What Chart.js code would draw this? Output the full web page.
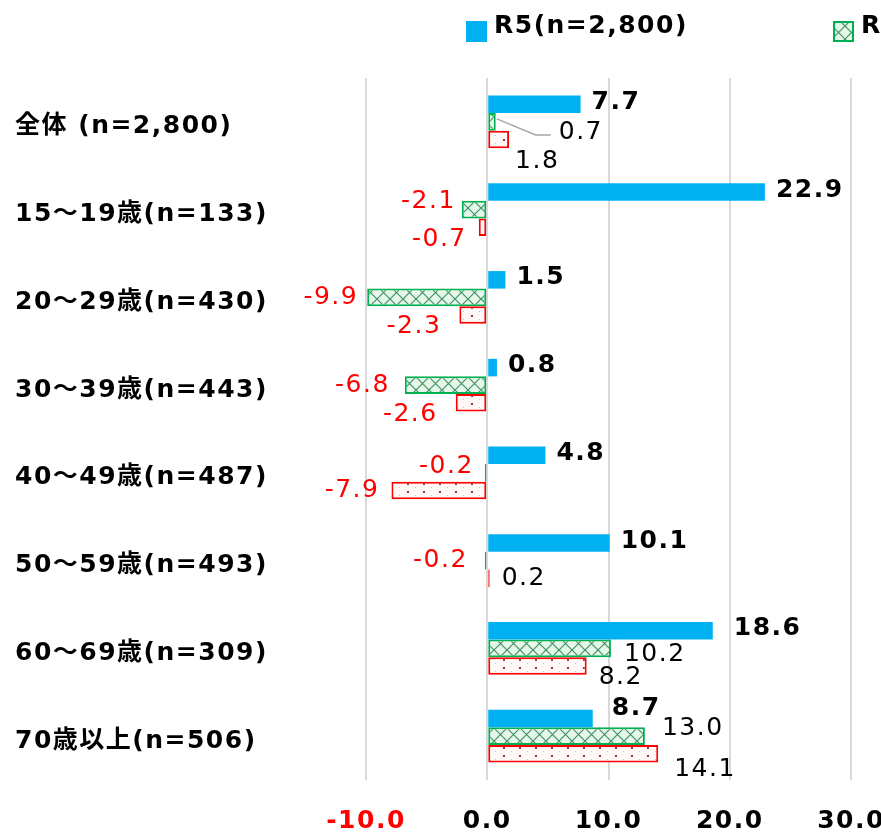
<!DOCTYPE html>
<html>
<head>
<meta charset="utf-8">
<script src="https://cdn.jsdelivr.net/npm/chart.js@4"></script>
<style>
  html, body { margin:0; padding:0; background:#fff; overflow:hidden; }
  #box { width:881px; height:833px; }
</style>
</head>
<body>
<div id="box"><canvas id="chart"></canvas></div>
<script>
// ========== データ ==========
const categories = [
  "全体 (n=2,800)",
  "15～19歳(n=133)",
  "20～29歳(n=430)",
  "30～39歳(n=443)",
  "40～49歳(n=487)",
  "50～59歳(n=493)",
  "60～69歳(n=309)",
  "70歳以上(n=506)"
];
const seriesNames = ["R5(n=2,800)", "R4(n=2,800)", "R3(n=2,800)"];
const r5Values = [7.7, 22.9, 1.5, 0.8, 4.8, 10.1, 18.6, 8.7];
const r4Values = [0.7, -2.1, -9.9, -6.8, -0.2, -0.2, 10.2, 13.0];
const r3Values = [1.8, -0.7, -2.3, -2.6, -7.9, 0.2, 8.2, 14.1];
const xTicks = [-10, 0, 10, 20, 30];

const FONT = '"DejaVu Sans", "Noto Sans CJK JP", sans-serif';
const BLUE = "#00B0F0";
const GREEN = "#00B050";
const RED = "#FF0000";

// ========== 塗りつぶしパターン ==========
function crossPattern() {
  const c = document.createElement("canvas");
  c.width = 13; c.height = 13;
  const g = c.getContext("2d");
  g.fillStyle = "#e6f6ea";
  g.fillRect(0, 0, 13, 13);
  g.strokeStyle = "#3f9460";
  g.lineWidth = 1.2;
  g.beginPath();
  g.moveTo(0, 0); g.lineTo(13, 13);
  g.moveTo(13, 0); g.lineTo(0, 13);
  g.stroke();
  return g.createPattern(c, "repeat");
}

function dotPattern() {
  const c = document.createElement("canvas");
  c.width = 16; c.height = 8;
  const g = c.getContext("2d");
  g.fillStyle = "#fff8f9";
  g.fillRect(0, 0, 16, 8);
  g.fillStyle = "#9c2c48";
  g.fillRect(7, 3, 2, 2);
  g.fillStyle = "#e7b3c0";
  g.fillRect(15, 7, 1, 1);
  return g.createPattern(c, "repeat");
}

const greenFill = crossPattern();
const redFill = dotPattern();

// ========== 文字間隔 ==========
const spacingPlugin = {
  id: "spacing",
  beforeUpdate(chart) { chart.ctx.letterSpacing = "1.5px"; },
  beforeDraw(chart) { chart.ctx.letterSpacing = "1.5px"; }
};

// ========== 凡例（右側は見切れ） ==========
const legendPlugin = {
  id: "cutLegend",
  afterDraw(chart) {
    const ctx = chart.ctx;
    ctx.save();
    chart.data.datasets.forEach((ds, i) => {
      const x = 466 + i * 367;
      ctx.fillStyle = ds.backgroundColor;
      ctx.fillRect(x, 21, 21, 21);
      if (ds.borderWidth) {
        ctx.strokeStyle = ds.borderColor;
        ctx.lineWidth = 2;
        ctx.strokeRect(x + 1, 22, 19, 19);
      }
      ctx.fillStyle = "#000";
      ctx.font = "bold 25px " + FONT;
      ctx.textAlign = "left";
      ctx.textBaseline = "alphabetic";
      ctx.fillText(ds.label, x + 28, 33);
    });
    ctx.restore();
  }
};

// ========== データラベル ==========
const labelStyle = [
  { weight: "bold", size: 25, dx: 11, dy: -2 },
  { weight: "normal", size: 25, dx: 11, dy: 0 },
  { weight: "normal", size: 25, dx: 12, dy: 12 }
];
// 手で動かしたラベル [dx, dy, 引き出し線]
const labelNudge = {
  "0-6": [10, 0], "0-7": [8, -8],
  "1-0": [52, 11, true], "1-1": [-5, -8], "1-2": [-2, 0], "1-3": [4, 0],
  "1-4": [0, -6], "1-5": [6, 0], "1-6": [2, 6], "1-7": [6, -8],
  "2-0": [-6, 10], "2-2": [6, 0], "2-3": [6, 0], "2-4": [0, -12], "2-5": [0, -12],
  "2-7": [4, 4]
};

const valueLabels = {
  id: "valueLabels",
  afterDatasetsDraw(chart) {
    const ctx = chart.ctx;
    ctx.save();
    chart.data.datasets.forEach((ds, i) => {
      const st = labelStyle[i];
      chart.getDatasetMeta(i).data.forEach((bar, j) => {
        const v = ds.data[j];
        const neg = v < 0;
        const nudge = labelNudge[i + "-" + j] || [0, 0];
        const endX = neg ? Math.min(bar.x, bar.base) : Math.max(bar.x, bar.base);
        const x = neg ? endX - st.dx - nudge[0] : endX + st.dx + nudge[0];
        const y = bar.y + st.dy + nudge[1];
        if (nudge[2]) {
          ctx.strokeStyle = "#a6a6a6";
          ctx.lineWidth = 1.5;
          ctx.beginPath();
          ctx.moveTo(endX + 1, bar.y - 3);
          ctx.lineTo(endX + 40, y + 2);
          ctx.lineTo(x - 8, y + 2);
          ctx.stroke();
        }
        ctx.font = st.weight + " " + st.size + "px " + FONT;
        ctx.fillStyle = neg ? RED : "#000";
        ctx.textAlign = neg ? "right" : "left";
        ctx.textBaseline = "middle";
        ctx.fillText(v.toFixed(1), x, y);
      });
    });
    ctx.restore();
  }
};

// ========== グラフ ==========
new Chart(document.getElementById("chart"), {
  type: "bar",
  data: {
    labels: categories,
    datasets: [
      { label: seriesNames[0], data: r5Values, backgroundColor: BLUE, borderWidth: 0 },
      { label: seriesNames[1], data: r4Values, backgroundColor: greenFill, borderColor: GREEN, borderWidth: 2, borderSkipped: false },
      { label: seriesNames[2], data: r3Values, backgroundColor: redFill, borderColor: RED, borderWidth: 2, borderSkipped: false }
    ]
  },
  options: {
    indexAxis: "y",
    responsive: true,
    maintainAspectRatio: false,
    animation: false,
    categoryPercentage: 0.6,
    barPercentage: 1.0,
    layout: { padding: { left: 15, right: 30, top: 78, bottom: 0 } },
    plugins: {
      legend: { display: false },
      tooltip: { enabled: false }
    },
    scales: {
      x: {
        min: xTicks[0],
        max: xTicks[xTicks.length - 1],
        afterBuildTicks: s => { s.ticks = xTicks.map(v => ({ value: v })); },
        afterFit: s => { s.paddingRight = 0; s.paddingLeft = 0; s.height = 53; },
        grid: { color: "#d9d9d9", lineWidth: 2, drawTicks: false },
        border: { display: false },
        ticks: {
          padding: 26,
          maxRotation: 0,
          font: { family: FONT, size: 25, weight: "bold" },
          color: c => c.tick.value < 0 ? RED : "#000",
          callback: v => v.toFixed(1)
        }
      },
      y: {
        afterFit: s => { s.width = 351; },
        grid: { display: false },
        border: { display: false },
        ticks: {
          crossAlign: "far",
          labelOffset: 5,
          font: { family: FONT, size: 25, weight: "bold" },
          color: "#000"
        }
      }
    }
  },
  plugins: [spacingPlugin, legendPlugin, valueLabels]
});
</script>
</body>
</html>
